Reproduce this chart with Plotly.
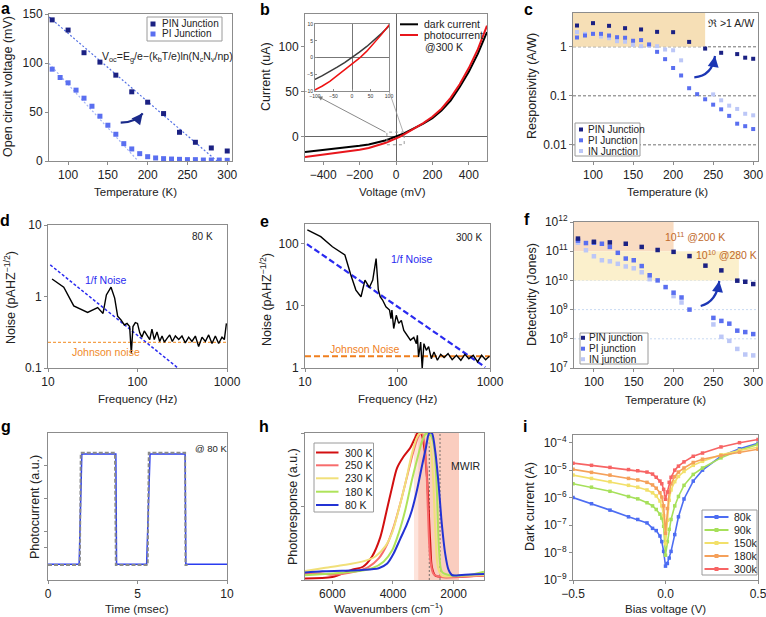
import plotly.graph_objects as go

W, H = 766, 617
FONT = "Liberation Sans, Arial, Helvetica, sans-serif"
AXC = "#8c8c8c"
TXT = "#222222"


def PX(x):
    return x / W


def PY(y):
    return 1 - y / H


# ---------------------------------------------------------------- data
# (a) open-circuit voltage
a_T_pin = [80, 100, 120, 140, 160, 180, 200, 220, 240, 260, 280, 300]
a_voc_pin = [144, 133.6, 110.5, 100.9, 87.6, 70.6, 60, 48.4, 29.3, 19.1, 13.3, 10.2]
a_T_pi = [80, 90, 100, 110, 120, 130, 140, 150, 160, 170, 180, 190, 200, 210, 220,
          230, 240, 250, 260, 270, 280, 290, 300]
a_voc_pi = [93.7, 85.2, 79.8, 72.3, 64.1, 55.9, 45.7, 36.5, 27.3, 17.7, 12.3, 7.5, 4.4,
            3.1, 2.4, 2.0, 1.7, 1.4, 1.4, 1.0, 1.0, 1.0, 0.7]
a_fit_pin_T = [76, 287]
a_fit_pin_V = [147, 0]
a_fit_pi_T = [76, 188]
a_fit_pi_V = [99.5, 0]

# (b) I-V at 300 K
b_V = [-500, -450, -400, -350, -300, -250, -200, -150, -100, -80, -60, -40, -20, 0,
       20, 40, 60, 80, 100, 150, 200, 250, 300, 350, 400, 450, 500]
b_dark = [-17, -16, -15, -14, -12.6, -11.5, -10.2, -8.6, -6.5, -5.4, -4.2, -2.9, -1.5,
          0, 1.6, 3.3, 5.2, 7.2, 9.4, 14.5, 20.5, 29, 40, 55, 72, 92, 116]
b_photo = [-22.5, -21.3, -20.1, -18.9, -17.5, -16, -14.5, -12.5, -9.8, -8.5, -7.1,
           -5.4, -3.8, -2.1, -0.2, 1.9, 4.3, 6.9, 9.7, 15, 22, 31, 43, 58, 76, 97, 123]

# (c) responsivity
c_T_pin = [80, 100, 120, 140, 160, 180, 200, 220, 240, 260, 280, 290, 300]
c_R_pin = [2.72, 3.04, 2.68, 2.4, 2.26, 2.02, 1.99, 1.26, 0.92, 0.755, 0.71, 0.6, 0.57]
c_T_pi = [80, 90, 100, 110, 120, 130, 140, 150, 160, 170, 180, 190, 200, 210, 220,
          230, 240, 250, 260, 270, 280, 290, 300]
c_R_pi = [1.55, 1.7, 1.84, 1.84, 1.7, 1.57, 1.53, 1.33, 1.37, 1.12, 0.79, 0.56, 0.37,
          0.26, 0.143, 0.108, 0.085, 0.066, 0.053, 0.039, 0.027, 0.024, 0.021]
c_T_in = [80, 90, 100, 110, 120, 130, 140, 150, 160, 170, 180, 190, 200, 210, 250,
          260, 270, 280, 290, 300]
c_R_in = [2.0, 1.84, 1.84, 1.62, 1.5, 1.3, 1.27, 1.1, 1.03, 1.06, 1.03, 0.88, 0.85,
          0.53, 0.107, 0.081, 0.063, 0.054, 0.043, 0.04]

# (d) noise spectrum at 80 K
d_f = [11.1, 15, 19.4, 27.7, 35.9, 41.2, 44.9, 50.6, 55.6, 60, 65.4, 71.3, 76.4, 81.7,
       85.3, 89, 94.6, 100, 106, 112, 119, 128, 137, 145, 154, 165, 177, 188, 200, 214,
       229, 245, 265, 289, 314, 342, 373, 406, 443, 482, 526, 573, 624, 680, 741, 807,
       879, 934, 985]
d_noise = [1.76, 1.35, 0.74, 0.6, 0.7, 0.58, 1.05, 1.35, 0.95, 0.53, 0.47, 0.4, 0.42,
           0.38, 0.16, 0.38, 0.43, 0.42, 0.31, 0.27, 0.33, 0.29, 0.25, 0.35, 0.25,
           0.32, 0.235, 0.28, 0.23, 0.26, 0.29, 0.235, 0.28, 0.25, 0.28, 0.225, 0.27,
           0.235, 0.28, 0.2, 0.27, 0.235, 0.29, 0.22, 0.28, 0.22, 0.27, 0.25, 0.42]
d_onef_f = [10.6, 283]
d_onef_n = [2.77, 0.1]
d_john_f = [10, 1000]
d_john_n = [0.228, 0.228]

# (e) noise spectrum at 300 K
e_f = [10.6, 14.8, 19.8, 27, 31.3, 35.5, 40.3, 44.5, 49.6, 54, 58.7, 62, 65, 69, 75,
       82, 85, 87, 91, 97, 103, 110, 117, 127, 138, 150, 160, 164, 169, 178, 185, 193,
       205, 217, 232, 248, 270, 293, 319, 352, 390, 434, 484, 535, 591, 659, 734, 811,
       897, 984]
e_noise = [164, 128, 88, 65, 31, 17.8, 13.9, 25.7, 19.6, 25.7, 57, 18, 13.9, 12.3, 9.6,
           8.5, 6.2, 8.5, 4.3, 7.0, 5.2, 5.8, 4.0, 3.35, 2.8, 3.1, 2.46, 3.35, 1.5, 2.6,
           0.98, 2.46, 1.92, 2.2, 1.41, 1.8, 1.33, 1.66, 1.47, 1.7, 1.36, 1.6, 1.33,
           1.66, 1.41, 1.6, 1.25, 1.6, 1.36, 1.54]
e_onef_f = [10.5, 890]
e_onef_n = [97, 1.03]
e_john_f = [10, 1000]
e_john_n = [1.54, 1.54]

# (f) detectivity
f_T_pin = [80, 100, 120, 140, 160, 180, 200, 220, 240, 260, 280, 290, 300]
f_D_pin = [2.7e11, 2.1e11, 2.0e11, 1.8e11, 1.4e11, 1.1e11, 9.5e10, 6.8e10, 3.2e10,
           2.2e10, 9.8e9, 9.0e9, 7.5e9]
f_T_pi = [80, 90, 100, 110, 120, 130, 140, 150, 160, 170, 180, 190, 200, 210, 220,
          250, 260, 270, 280, 290, 300]
f_D_pi = [2.3e11, 1.9e11, 1.95e11, 1.8e11, 1.4e11, 8.8e10, 5.6e10, 4.9e10, 3.1e10,
          1.5e10, 1.0e10, 5.9e9, 3.8e9, 2.6e9, 1.0e9, 5.2e8, 4.1e8, 3.3e8, 1.9e8,
          1.7e8, 1.45e8]
f_T_in = [80, 90, 100, 110, 120, 130, 140, 150, 160, 170, 200, 210, 250, 260, 270,
          280, 290, 300]
f_D_in = [1.95e11, 1.08e11, 6.7e10, 4.9e10, 4.5e10, 3.7e10, 3.0e10, 2.6e10, 1.9e10,
          1.1e10, 2.9e9, 1.75e9, 3.1e8, 1.17e8, 8.5e7, 4.5e7, 2.9e7, 2.7e7]

# (g) temporal response
g_t_meas = [0, 1.74, 1.89, 3.79, 3.83, 5.51, 5.70, 7.66, 7.70, 10]
g_i_meas = [0, 0, 1, 1, 0, 0, 1, 1, 0, 0]
g_t_ref = [0, 1.78, 1.83, 3.74, 3.79, 5.57, 5.63, 7.66, 7.68, 7.8]
g_i_ref = [-0.006, -0.006, 1.01, 1.01, -0.006, -0.006, 1.01, 1.01, -0.006, -0.006]

# (h) normalised spectral photoresponse
h_labels = ["300 K", "250 K", "230 K", "180 K", "80 K"]
h_wn_300 = [7000, 6000, 5350, 4990, 4690, 4420, 4200, 4030, 3870, 3650, 3430, 3265,
            3190, 3080, 2990, 2880, 2770, 2720, 2610, 2390, 1950, 1000]
h_r_300 = [0.01, 0.02, 0.07, 0.09, 0.16, 0.29, 0.48, 0.63, 0.76, 0.84, 0.9, 0.97, 1.0,
           1.0, 0.93, 0.7, 0.25, 0.09, 0.03, 0.02, 0.02, 0.03]
h_wn_250 = [7000, 6330, 6000, 5680, 5240, 4800, 4470, 4200, 3980, 3760, 3540, 3320,
            3155, 3050, 2960, 2900, 2850, 2770, 2660, 2390, 1000]
h_r_250 = [0.04, 0.045, 0.035, 0.04, 0.057, 0.09, 0.147, 0.24, 0.36, 0.52, 0.7, 0.88,
           0.98, 1.0, 0.93, 0.77, 0.48, 0.14, 0.04, 0.02, 0.03]
h_wn_230 = [7000, 6330, 5680, 5020, 4580, 4250, 4030, 3810, 3590, 3375, 3210, 3100,
            2880, 2770, 2680, 2610, 2520, 2390, 1730, 1000]
h_r_230 = [0.057, 0.08, 0.1, 0.125, 0.16, 0.23, 0.32, 0.48, 0.66, 0.86, 0.97, 1.0, 1.0,
           0.93, 0.7, 0.36, 0.09, 0.03, 0.03, 0.034]
h_wn_180 = [7000, 6000, 5240, 4690, 4310, 4030, 3810, 3590, 3375, 3180, 3050, 2940,
            2830, 2720, 2630, 2550, 2480, 2390, 2170, 1510, 1000]
h_r_180 = [0.03, 0.045, 0.057, 0.08, 0.125, 0.2, 0.32, 0.48, 0.68, 0.84, 0.94, 0.99,
           1.0, 0.97, 0.88, 0.59, 0.2, 0.057, 0.034, 0.034, 0.057]
h_wn_80 = [7000, 6330, 5680, 5020, 4470, 4200, 3980, 3760, 3540, 3375, 3210, 3050,
           2915, 2805, 2720, 2610, 2500, 2390, 2280, 2170, 2060, 1730, 1000]
h_r_80 = [0.05, 0.06, 0.063, 0.068, 0.08, 0.11, 0.18, 0.28, 0.38, 0.475, 0.61, 0.77,
          0.9, 1.0, 1.0, 0.88, 0.66, 0.38, 0.18, 0.07, 0.034, 0.034, 0.04]
h_band_outer = [3307, 1824]
h_band_inner = [3166, 1824]
h_marks = [2803, 2450]

# (i) dark current vs bias
i_labels = ["80k", "90k", "150k", "180k", "300k"]
i_V = [-0.5, -0.4, -0.3, -0.2, -0.15, -0.1, -0.07, -0.05, -0.03, -0.02, -0.01, 0,
       0.01, 0.02, 0.03, 0.05, 0.07, 0.1, 0.15, 0.2, 0.3, 0.4, 0.5]
i_80 = [1.0e-6, 6.0e-7, 3.5e-7, 2.0e-7, 1.6e-7, 1.2e-7, 7.6e-8, 6.3e-8, 4.0e-8, 2.5e-8,
        1.1e-8, 3.2e-9, 4.0e-9, 6.3e-9, 1.1e-8, 4.5e-8, 2.0e-7, 8.9e-7, 4.0e-6, 1.0e-5,
        3.2e-5, 6.0e-5, 9.5e-5]
i_90 = [3.2e-6, 2.4e-6, 1.7e-6, 1.1e-6, 9.0e-7, 6.5e-7, 5.0e-7, 3.7e-7, 2.5e-7, 1.8e-7,
        9.0e-8, 8.0e-9, 2.5e-8, 7.0e-8, 1.6e-7, 5.0e-7, 1.1e-6, 2.8e-6, 7.0e-6, 1.2e-5,
        2.8e-5, 5.3e-5, 8.7e-5]
i_150 = [6.6e-6, 5.0e-6, 3.8e-6, 2.8e-6, 2.4e-6, 1.9e-6, 1.5e-6, 1.15e-6, 7.5e-7,
         5.0e-7, 2.2e-7, 2.1e-8, 1.5e-7, 8.0e-7, 1.9e-6, 3.8e-6, 5.9e-6, 9.0e-6, 1.5e-5,
         2.1e-5, 3.6e-5, 5.2e-5, 6.8e-5]
i_180 = [1.07e-5, 8.3e-6, 6.6e-6, 5.0e-6, 4.4e-6, 3.6e-6, 2.9e-6, 2.2e-6, 1.5e-6,
         1.05e-6, 5.0e-7, 5.0e-8, 4.0e-7, 1.6e-6, 3.2e-6, 5.8e-6, 8.5e-6, 1.2e-5, 1.9e-5,
         2.5e-5, 3.4e-5, 4.5e-5, 5.8e-5]
i_300 = [1.8e-5, 1.5e-5, 1.26e-5, 1.05e-5, 9.5e-6, 8.5e-6, 7.2e-6, 5.5e-6, 4.0e-6,
         3.2e-6, 2.0e-6, 8.7e-7, 1.6e-6, 3.6e-6, 5.5e-6, 1.0e-5, 1.4e-5, 2.0e-5, 3.2e-5,
         4.2e-5, 7.0e-5, 1.0e-4, 1.3e-4]

# ---------------------------------------------------------------- colours
NAVY = "#1b2183"
MID = "#5a6ff0"
LIGHT = "#bcc7f7"
H_COL = ["#d20f10", "#f76c6c", "#f1e07a", "#aee35a", "#2333d4"]
I_COL = ["#4d6df2", "#a6e05a", "#f2e06a", "#f5a05a", "#f76464"]
ARROW = "#1c36b4"
BROWN = "#c0692a"

fig = go.Figure()
shapes = []
annotations = []


def text(t, x, y, size=12, color=TXT, xanchor="center", yanchor="middle", angle=0):
    annotations.append(dict(text=t, x=PX(x), y=PY(y), xref="paper", yref="paper",
                            showarrow=False, xanchor=xanchor, yanchor=yanchor,
                            textangle=angle, font=dict(family=FONT, size=size, color=color)))


def pts(ax, x, y, color, size=5):
    fig.add_trace(go.Scatter(x=x, y=y, mode="markers", xaxis="x" + ax, yaxis="y" + ax,
                             marker=dict(symbol="square", size=size, color=color),
                             showlegend=False, hoverinfo="skip"))


def line(ax, x, y, color, width=1.5, dash=None, mode="lines", msize=3):
    fig.add_trace(go.Scatter(x=x, y=y, mode=mode, xaxis="x" + ax, yaxis="y" + ax,
                             line=dict(color=color, width=width, dash=dash),
                             marker=dict(symbol="square", size=msize, color=color),
                             showlegend=False, hoverinfo="skip"))


def legend(box, items, kind, sym, tx, size=10, msize=4):
    if box:
        x0, y0, x1, y1 = box
        shapes.append(dict(type="rect", xref="paper", yref="paper", x0=PX(x0), x1=PX(x1),
                           y0=PY(y1), y1=PY(y0), line=dict(color="#9a9a9a", width=1),
                           fillcolor="white", layer="above"))
    for lab, col, y in items:
        if kind == "square":
            h = msize / 2
            shapes.append(dict(type="rect", xref="paper", yref="paper", x0=PX(sym - h),
                               x1=PX(sym + h), y0=PY(y + h), y1=PY(y - h), fillcolor=col,
                               line=dict(width=0), layer="above"))
        else:
            shapes.append(dict(type="line", xref="paper", yref="paper", x0=PX(sym[0]),
                               x1=PX(sym[1]), y0=PY(y), y1=PY(y),
                               line=dict(color=col, width=2), layer="above"))
            if kind == "linemarker":
                c = (sym[0] + sym[1]) / 2
                shapes.append(dict(type="rect", xref="paper", yref="paper", x0=PX(c - 2),
                                   x1=PX(c + 2), y0=PY(y + 2), y1=PY(y - 2), fillcolor=col,
                                   line=dict(width=0), layer="above"))
        text(lab, tx, y, size=size, xanchor="left")


def curved_arrow(p0, c, p1, head_off, color=ARROW):
    path = "M {},{} Q {},{} {},{}".format(PX(p0[0]), PY(p0[1]), PX(c[0]), PY(c[1]),
                                           PX(p1[0]), PY(p1[1]))
    shapes.append(dict(type="path", xref="paper", yref="paper", path=path,
                       line=dict(color=color, width=2.2), layer="above"))
    annotations.append(dict(x=PX(p1[0]), y=PY(p1[1]), xref="paper", yref="paper", text="",
                            showarrow=True, arrowhead=2, arrowsize=1, arrowwidth=2.2,
                            arrowcolor=color, ax=head_off[0], ay=head_off[1], standoff=0))


# ---------------------------------------------------------------- panel a
line("", a_fit_pin_T, a_fit_pin_V, "#5470e4", width=1.2, dash="2px,2px")
line("", a_fit_pi_T, a_fit_pi_V, "#a3b4f6", width=1.2, dash="2px,2px")
pts("", a_T_pin, a_voc_pin, NAVY, 5)
pts("", a_T_pi, a_voc_pi, MID, 5)
text("V<sub>oc</sub>=E<sub>g</sub>/e\u2212(k<sub>b</sub>T/e)ln(N<sub>c</sub>N<sub>v</sub>/np)",
     167, 57, size=10.5)
curved_arrow((120.7, 122.7), (136, 122), (142.7, 113.3), (-4, 5), color="#1a2a8a")
legend((147, 17, 222, 41), [("PIN Junction", NAVY, 24), ("PI Junction", MID, 34)],
       "square", 153, 160, size=10, msize=5)

# ---------------------------------------------------------------- panel b
line("2", b_V, b_dark, "#000000", width=2)
line("2", b_V, b_photo, "#e8161c", width=2)
line("10", b_V, b_dark, "#3c3c3c", width=1.5)
line("10", b_V, b_photo, "#ee1111", width=1.5)
shapes.append(dict(type="rect", xref="x2", yref="y2", x0=-50, x1=45, y0=-9, y1=5,
                   line=dict(color="#9a9a9a", width=1, dash="dot"), layer="above"))
shapes.append(dict(type="line", xref="paper", yref="paper", x0=PX(403.5), y0=PY(133),
                   x1=PX(389), y1=PY(91), line=dict(color="#9a9a9a", width=0.8)))
annotations.append(dict(x=PX(318), y=PY(96.5), xref="paper", yref="paper", text="",
                        showarrow=True, arrowhead=2, arrowsize=1, arrowwidth=0.9,
                        arrowcolor="#7a7a7a", ax=69, ay=36.5, standoff=0))
legend(None, [("dark current", "#000000", 24.3), ("photocurrent", "#e8161c", 35)],
       "line", (400, 418), 422, size=10.5)
text("@300 K", 423, 46.7, size=10.5, xanchor="left")

# ---------------------------------------------------------------- panel c
shapes.append(dict(type="rect", xref="x3", yref="y3", x0=75, x1=240, y0=1, y1=4.9,
                   fillcolor="#f6dfb6", line=dict(width=0), layer="below"))
for v in [1, 0.1, 0.01]:
    shapes.append(dict(type="line", xref="x3 domain", yref="y3", x0=0, x1=1, y0=v, y1=v,
                       line=dict(color="#707070", width=1, dash="3px,2px"), layer="below"))
pts("3", c_T_in, c_R_in, LIGHT, 4)
pts("3", c_T_pi, c_R_pi, MID, 4)
pts("3", c_T_pin, c_R_pin, NAVY, 4)
text("\u211c >1 A/W", 731, 23, size=10.5)
curved_arrow((694.3, 77.3), (712, 76), (715, 56), (-1, 6))
legend((575, 123, 640, 156), [("PIN Junction", NAVY, 129.5), ("PI Junction", MID, 140.3),
                              ("IN Junction", LIGHT, 151)], "square", 581, 585.5, size=10)

# ---------------------------------------------------------------- panel d
line("4", d_john_f, d_john_n, "#f4a04a", width=1.3, dash="3px,2px")
line("4", d_onef_f, d_onef_n, "#2a2af0", width=1.5, dash="3px,2px")
line("4", d_f, d_noise, "#000000", width=1.4)
text("80 K", 202, 236, size=10)
text("1/f Noise", 106, 280, size=10.5, color="#2a2af0")
text("Johnson noise", 106, 352, size=10.5, color="#f08a2a")

# ---------------------------------------------------------------- panel e
line("5", e_john_f, e_john_n, "#f07f1e", width=2, dash="6px,3px")
line("5", e_onef_f, e_onef_n, "#2a2af0", width=2.2, dash="6px,3px")
line("5", e_f, e_noise, "#000000", width=1.4)
text("300 K", 469, 237, size=10)
text("1/f Noise", 412, 259, size=10.5, color="#2a2af0")
text("Johnson Noise", 365, 349, size=10.5, color="#f07f1e")

# ---------------------------------------------------------------- panel f
shapes.append(dict(type="rect", xref="x6", yref="y6", x0=75, x1=200, y0=1e11, y1=1e12,
                   fillcolor="#f9dcc2", line=dict(width=0), layer="below"))
shapes.append(dict(type="rect", xref="x6", yref="y6", x0=75, x1=282, y0=1e10, y1=1e11,
                   fillcolor="#fbf0cc", line=dict(width=0), layer="below"))
for v in [1e8, 1e9, 1e10]:
    shapes.append(dict(type="line", xref="x6 domain", yref="y6", x0=0, x1=1, y0=v, y1=v,
                       line=dict(color="#c9dbf3", width=1, dash="2px,2px"), layer="below"))
pts("6", f_T_in, f_D_in, LIGHT, 4.5)
pts("6", f_T_pi, f_D_pi, MID, 4.5)
pts("6", f_T_pin, f_D_pin, NAVY, 4.5)
text("10<sup>11</sup> @200 K", 695, 236, size=10.5, color=BROWN)
text("10<sup>10</sup> @280 K", 726, 254, size=10.5, color=BROWN)
curved_arrow((700.7, 306), (716.7, 301.7), (719.3, 281), (-1, 6))
legend((580, 333, 648, 364), [("PIN junction", NAVY, 337.8), ("PI junction", MID, 348.7),
                              ("IN junction", LIGHT, 359.2)], "square", 583, 587, size=10)

# ---------------------------------------------------------------- panel g
line("7", g_t_meas, g_i_meas, "#2a3cf0", width=1.5)
line("7", g_t_ref, g_i_ref, "#8a8a8a", width=2, dash="4px,2px")
text("@ 80 K", 211, 448, size=9.5)

# ---------------------------------------------------------------- panel h
shapes.append(dict(type="rect", xref="x8", yref="y8 domain", x0=h_band_outer[0],
                   x1=h_band_outer[1], y0=0, y1=1, fillcolor="#fde4dc", line=dict(width=0),
                   layer="below"))
shapes.append(dict(type="rect", xref="x8", yref="y8 domain", x0=h_band_inner[0],
                   x1=h_band_inner[1], y0=0, y1=1, fillcolor="#facdbf", line=dict(width=0),
                   layer="below"))
for v in h_marks:
    shapes.append(dict(type="line", xref="x8", yref="y8 domain", x0=v, x1=v, y0=0, y1=1,
                       line=dict(color="#555555", width=0.8, dash="2px,2px"), layer="below"))
h_series = [(h_wn_300, h_r_300), (h_wn_250, h_r_250), (h_wn_230, h_r_230),
            (h_wn_180, h_r_180), (h_wn_80, h_r_80)]
for (xs, ys), col in zip(h_series, H_COL):
    fig.add_trace(go.Scatter(x=xs, y=ys, mode="lines", xaxis="x8", yaxis="y8",
                             line=dict(color=col, width=2, shape="spline", smoothing=0.8),
                             showlegend=False, hoverinfo="skip"))
text("MWIR", 466, 466, size=10.5)
legend((314, 443, 373.5, 512), [(lab, col, y) for lab, col, y in
                                zip(h_labels, H_COL, [452.5, 465.3, 478.3, 491.7, 505])],
       "line", (316, 338.5), 342.5, size=10.5)

# ---------------------------------------------------------------- panel i
for ys, col in zip([i_80, i_90, i_150, i_180, i_300], I_COL):
    line("9", i_V, ys, col, width=1.6, mode="lines+markers", msize=3.5)
legend((702, 510, 757, 575), [(lab, col, y) for lab, col, y in
                              zip(i_labels, I_COL, [517, 530, 543, 556, 569])],
       "linemarker", (704.5, 728.5), 732, size=10.5)

# ---------------------------------------------------------------- axis titles
XT, YT = 11.5, 12.5
for t, x, y in [("Temperature (K)", 135, 192), ("Voltage (mV)", 392, 192),
                ("Temperature (k)", 667, 192), ("Frequency (Hz)", 137, 399),
                ("Frequency (Hz)", 397, 399), ("Temperature (k)", 665, 400),
                ("Time (msec)", 137, 609), ("Wavenumbers (cm<sup>\u22121</sup>)", 388, 608),
                ("Bias voltage (V)", 665, 609)]:
    text(t, x, y, size=XT)
for t, x, y in [("Open circuit voltage (mV)", 8, 87), ("Current (uA)", 266, 77),
                ("Responsivity (A/W)", 532, 86), ("Noise (pAHZ<sup>\u22121/2</sup>)", 10, 298),
                ("Noise (pAHZ<sup>\u22121/2</sup>)", 266, 300),
                ("Detectivity (Jones)", 532, 295), ("Photocurrent (a.u.)", 35, 507),
                ("Photoresponse (a.u.)", 293, 507), ("Dark current (A)", 530, 507)]:
    text(t, x, y, size=YT, angle=-90)

for lab, x, y in [("a", 5, 8), ("b", 265, 9), ("c", 528, 9), ("d", 5, 220),
                  ("e", 264, 221), ("f", 527, 219), ("g", 6, 426), ("h", 264, 426),
                  ("i", 525, 426)]:
    text("<b>" + lab + "</b>", x, y, size=16, color="#000000")


# ---------------------------------------------------------------- axes
def axis(dom, **kw):
    d = dict(domain=dom, showline=True, linecolor=AXC, linewidth=1, mirror=True,
             ticks="outside", ticklen=3, tickcolor=AXC, showgrid=False, zeroline=False,
             automargin=False, ticklabeloverflow="allow",
             tickfont=dict(family=FONT, size=12, color=TXT))
    d.update(kw)
    return d


def xd(x0, x1):
    return [PX(x0), PX(x1)]


def yd(top, bottom):
    return [PY(bottom), PY(top)]


T_TICKS = [100, 150, 200, 250, 300]
layout_axes = dict(
    xaxis=axis(xd(49, 232), anchor="y", range=[76, 306], tickvals=T_TICKS),
    yaxis=axis(yd(14, 161), anchor="x", range=[0, 150], tickvals=[0, 50, 100, 150]),
    xaxis2=axis(xd(305, 487), anchor="y2", range=[-500, 500],
                tickvals=[-400, -200, 0, 200, 400], zeroline=True, zerolinecolor="#666",
                zerolinewidth=1),
    yaxis2=axis(yd(14, 161), anchor="x2", range=[-27, 136], tickvals=[0, 50, 100],
                zeroline=True, zerolinecolor="#666", zerolinewidth=1),
    xaxis3=axis(xd(573, 758), anchor="y3", range=[75, 306], tickvals=T_TICKS),
    yaxis3=axis(yd(13, 161), anchor="x3", type="log", range=[-2.33, 0.69],
                tickvals=[0.01, 0.1, 1], ticktext=["0.01", "0.1", "1"]),
    xaxis4=axis(xd(48, 227), anchor="y4", type="log", range=[1, 3],
                tickvals=[10, 100, 1000], ticktext=["10", "100", "1000"]),
    yaxis4=axis(yd(225, 368), anchor="x4", type="log", range=[-1, 1],
                tickvals=[0.1, 1, 10], ticktext=["0.1", "1", "10"]),
    xaxis5=axis(xd(305, 490), anchor="y5", type="log", range=[1, 3],
                tickvals=[10, 100, 1000], ticktext=["10", "100", "1000"]),
    yaxis5=axis(yd(224, 368), anchor="x5", type="log", range=[0, 2.31],
                tickvals=[1, 10, 100], ticktext=["1", "10", "100"]),
    xaxis6=axis(xd(574, 758), anchor="y6", range=[75, 306], tickvals=T_TICKS),
    yaxis6=axis(yd(222, 368), anchor="x6", type="log", range=[7, 12],
                tickvals=[1e7, 1e8, 1e9, 1e10, 1e11, 1e12],
                ticktext=["10<sup>%d</sup>" % k for k in range(7, 13)]),
    xaxis7=axis(xd(48, 227), anchor="y7", range=[0, 10], tickvals=[0, 5, 10]),
    yaxis7=axis(yd(433, 580), anchor="x7", range=[-0.142, 1.19],
                tickvals=[0.15, 0.3, 0.6, 0.9], showticklabels=False),
    xaxis8=axis(xd(305, 484), anchor="y8", range=[6900, 1000],
                tickvals=[6000, 4000, 2000]),
    yaxis8=axis(yd(433, 580), anchor="x8", range=[0, 1], tickvals=[0, 0.5, 1],
                showticklabels=False),
    xaxis9=axis(xd(573, 758), anchor="y9", range=[-0.5, 0.5], tickvals=[-0.5, 0, 0.5],
                ticktext=["\u22120.5", "0.0", "0.5"]),
    yaxis9=axis(yd(435, 580), anchor="x9", type="log", range=[-9, -3.72],
                tickvals=[1e-9, 1e-8, 1e-7, 1e-6, 1e-5, 1e-4],
                ticktext=["10<sup>\u2212%d</sup>" % k for k in range(9, 3, -1)]),
    xaxis10=axis(xd(315, 389), anchor="y10", range=[-100, 100],
                 tickvals=[-100, -50, 0, 50, 100], ticks="inside", ticklen=2,
                 tickfont=dict(family=FONT, size=5, color="#333"), zeroline=True,
                 zerolinecolor="#777", zerolinewidth=1),
    yaxis10=axis(yd(24, 91), anchor="x10", range=[-10, 10],
                 tickvals=[-10, -5, 0, 5, 10], ticks="inside", ticklen=2,
                 tickfont=dict(family=FONT, size=5, color="#333"), zeroline=True,
                 zerolinecolor="#777", zerolinewidth=1),
)

fig.update_layout(
    width=W, height=H, margin=dict(l=0, r=0, t=0, b=0, pad=0),
    paper_bgcolor="white", plot_bgcolor="white", showlegend=False,
    font=dict(family=FONT, size=12, color=TXT),
    shapes=shapes, annotations=annotations, **layout_axes)

# remove the default 8 px page margin so the 766x617 figure fills the window exactly
PAGE_FIX = ("document.documentElement.style.margin='0';document.body.style.margin='0';"
            "document.body.style.padding='0';document.documentElement.style.overflow='hidden';"
            "document.body.style.overflow='hidden';")
fig.write_html("out.html", post_script=PAGE_FIX, config={"displayModeBar": False})
